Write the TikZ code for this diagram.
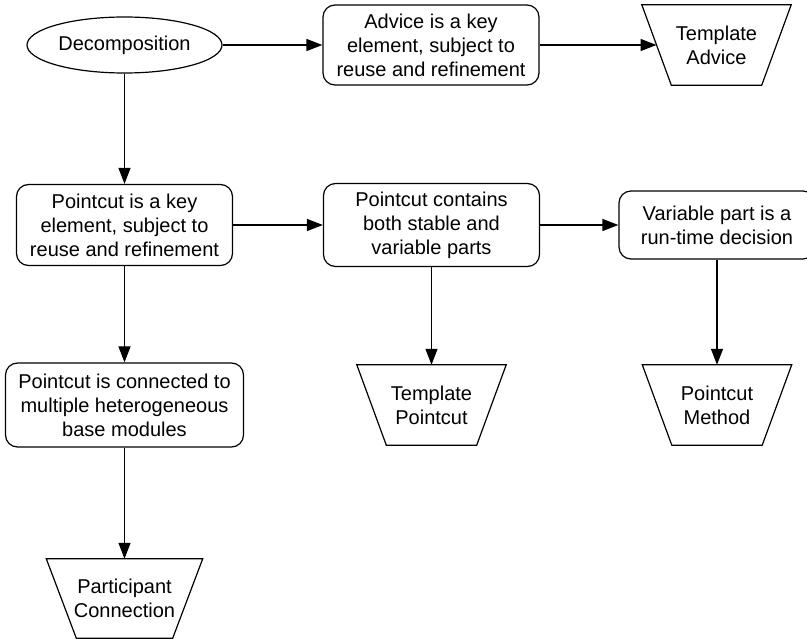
\documentclass[tikz,border=0pt]{standalone}
\usepackage{fontspec}
\setmainfont{Liberation Sans}
\usetikzlibrary{shapes.geometric,arrows.meta,calc}

\tikzset{
  lbl/.style={font=\fontsize{20}{24}\selectfont, align=center, inner sep=0pt},
  oval/.style={lbl, ellipse, draw, line width=1.2pt, minimum width=195pt, minimum height=56pt},
  stepbox/.style={lbl, rectangle, draw, rounded corners=12pt, line width=1.2pt},
  trayhold/.style={lbl, rectangle, minimum height=80pt},
  flow/.style={line width=1.2pt, -{Triangle[length=16pt,width=12pt]}},
  outline/.style={line width=1.2pt, line join=miter}
}

% inverted trapezoid drawn around a text holder node; #2 = half the slant
\newcommand{\traybox}[2]{%
  \draw[outline] ($(#1.north west)+(-#2,0)$) -- ($(#1.north east)+(#2,0)$)
    -- ($(#1.south east)+(-#2,0)$) -- ($(#1.south west)+(#2,0)$) -- cycle;}

\begin{document}
\begin{tikzpicture}[x=1pt,y=-1pt]
  \useasboundingbox (0,0) rectangle (807,639);

  % nodes
  \node[oval] (dec) at (124.5,45) {Decomposition};
  \node[stepbox, minimum width=216pt, minimum height=80pt] (adv) at (431,45)
    {Advice is a key\\element, subject to\\reuse and refinement};
  \node[trayhold, minimum width=119.5pt] (tadv) at (716.5,45) {Template\\Advice};

  \node[stepbox, minimum width=216pt, minimum height=81pt] (pkey) at (124.5,225)
    {Pointcut is a key\\element, subject to\\reuse and refinement};
  \node[stepbox, minimum width=216pt, minimum height=83pt] (pcont) at (431.5,225)
    {Pointcut contains\\both stable and\\variable parts};
  \node[stepbox, minimum width=196pt, minimum height=68pt] (vpart) at (717,225)
    {Variable part is a\\run-time decision};

  \node[stepbox, minimum width=238pt, minimum height=84pt] (pconn) at (124.5,405)
    {Pointcut is connected to\\multiple heterogeneous\\base modules};
  \node[trayhold, minimum width=119.5pt] (tpc) at (431.5,405) {Template\\Pointcut};
  \node[trayhold, minimum width=119.5pt] (pmeth) at (717,405) {Pointcut\\Method};

  \node[trayhold, minimum width=126pt, minimum height=79pt] (part) at (124.5,598.5)
    {Participant\\Connection};

  % trapezoid outlines
  \traybox{tadv}{14.75}
  \traybox{tpc}{14.75}
  \traybox{pmeth}{14.75}
  \traybox{part}{15}

  % connectors
  \draw[flow] (dec) -- (adv);
  \draw[flow] (adv) -- (tadv);
  \draw[flow] (dec) -- (pkey);
  \draw[flow] (pkey) -- (pcont);
  \draw[flow] (pcont) -- (vpart);
  \draw[flow] (pkey) -- (pconn);
  \draw[flow] (pconn) -- (part);
  \draw[flow] (pcont) -- (tpc);
  \draw[flow] (vpart) -- (pmeth);
\end{tikzpicture}
\end{document}
